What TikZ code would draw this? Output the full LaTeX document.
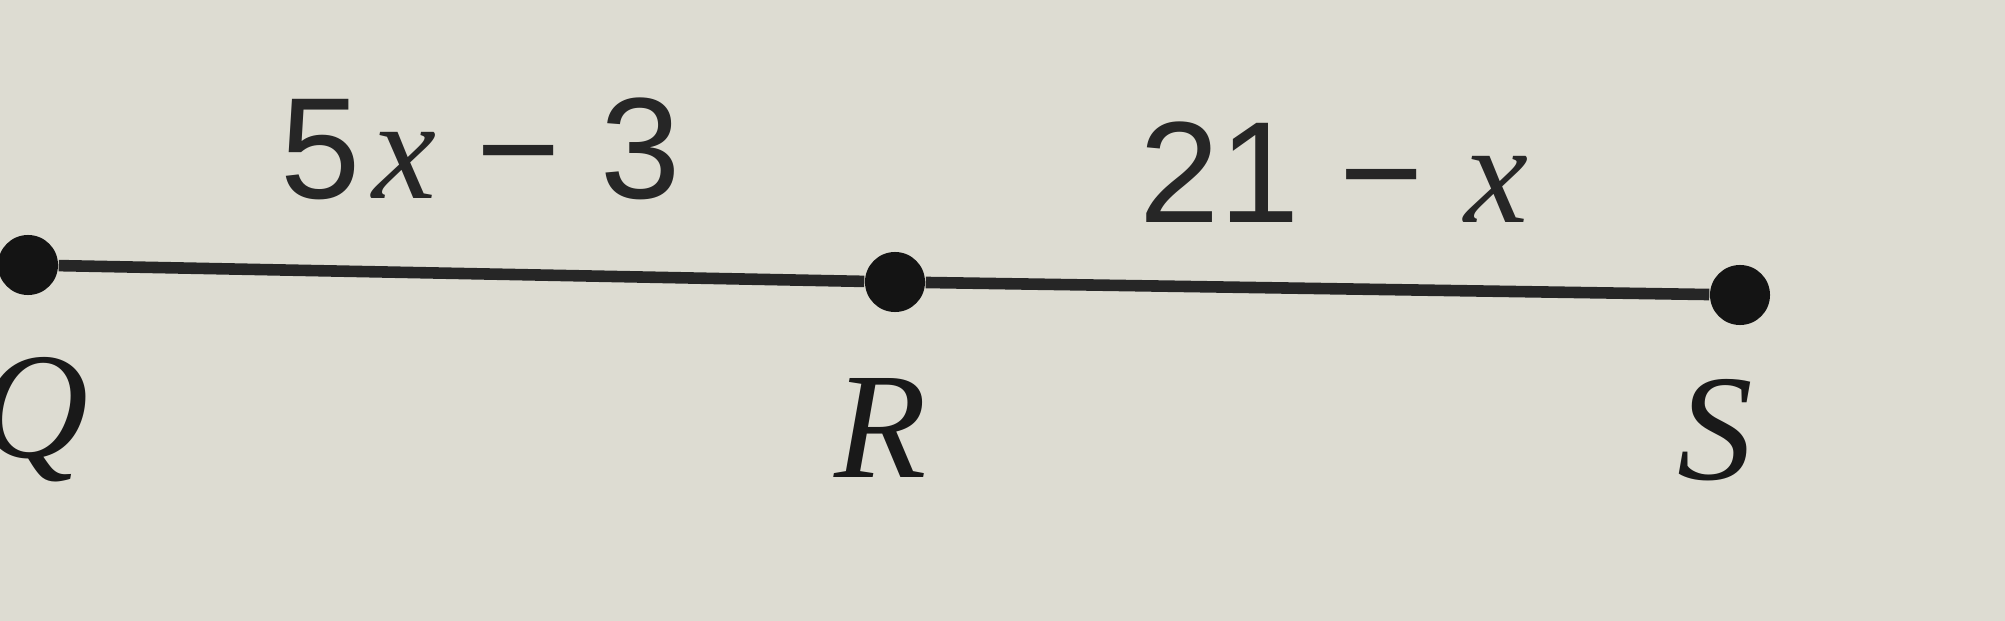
\documentclass[tikz,border=0pt]{standalone}
\usepackage{fontspec}
\setmainfont{Liberation Serif}
\setsansfont{Liberation Sans}
\newfontfamily\xfont{Liberation Serif}
\begin{document}
\begin{tikzpicture}[x=0.01cm,y=-0.01cm,
  dot/.style={circle,fill=black!92,inner sep=0pt,minimum size=0.6cm},
  seg/.style={line width=3.3pt,draw=black!85},
  ptlabel/.style={font=\fontsize{43}{48}\selectfont\itshape,text=black!90},
  explabel/.style={font=\fontsize{41}{46}\sffamily,text=black!85}]
\fill[fill={rgb,255:red,221;green,220;blue,210}] (0,0) rectangle (2005,621);
\useasboundingbox (0,0) rectangle (2005,621);
\node[dot] (Q) at (28,265) {};
\node[dot] (R) at (895,282) {};
\node[dot] (S) at (1740,295) {};
\draw[seg] (Q) -- (R) -- (S);
\node[explabel] (l1) at (481,149) {5\hspace{0.08em}{\xfont\itshape x} − 3};
\node[explabel] (l2) at (1334,172) {21 − {\xfont\itshape x}};
\node[ptlabel] (q) at (34,420) {Q};
\node[ptlabel] (r) at (881,428) {R};
\node[ptlabel] (s) at (1715,430) {S};
\end{tikzpicture}
\end{document}
